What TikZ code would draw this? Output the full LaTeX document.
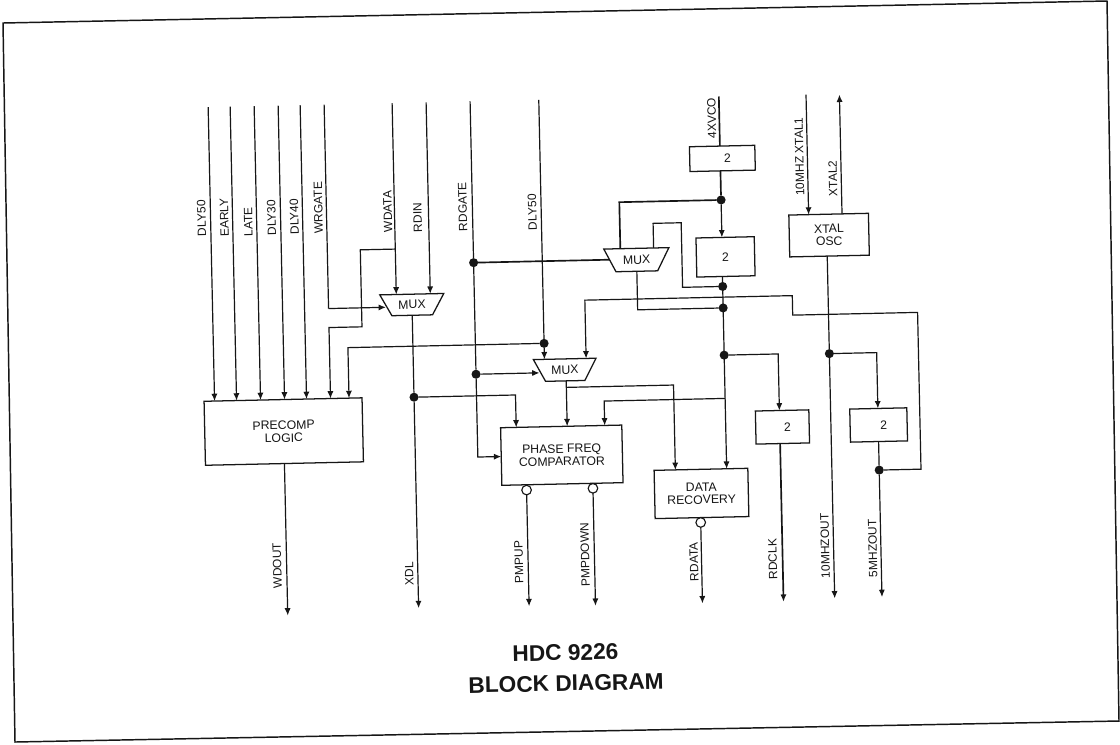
\documentclass[tikz,border=0pt]{standalone}
\usepackage{fontspec}
\usepackage{xcolor}
\usepackage{tikz}
\usetikzlibrary{calc,arrows.meta,positioning,shapes.geometric}
\setmainfont{Liberation Sans}
\definecolor{scanInk}{RGB}{22,22,22}
\tikzset{
  sigline/.style={draw=scanInk, line width=0.9pt},
  sigheavy/.style={draw=scanInk, line width=1.25pt},
  sigarrow/.style={sigline, -{Latex[length=5.5pt,width=4.6pt]}},
  heavyarrow/.style={sigheavy, -{Latex[length=5.5pt,width=4.6pt]}},
  blockbox/.style={draw=scanInk, line width=0.95pt, rectangle, fill=white, inner sep=0pt, outer sep=0pt, align=center, text=scanInk, font=\fontsize{9.2}{9.6}\selectfont},
  muxbox/.style={draw=scanInk, line width=0.95pt, trapezium, trapezium left angle=61, trapezium right angle=61, trapezium stretches body, shape border rotate=180, fill=white, inner xsep=0pt, inner ysep=4.7pt, outer sep=0pt, text=scanInk, font=\fontsize{9.2}{9.6}\selectfont},
  junction/.style={circle, fill=scanInk, minimum size=6.8pt, inner sep=0pt, outer sep=0pt},
  bubble/.style={circle, draw=scanInk, line width=0.85pt, fill=white, minimum size=7.2pt, inner sep=0pt, outer sep=0pt},
  siglabel/.style={rotate=90, inner sep=0pt, text=scanInk, font=\fontsize{9}{9}\selectfont},
}
\begin{document}
\begin{tikzpicture}[x=0.75pt,y=-0.75pt]
\useasboundingbox (0,0) rectangle (1120,744);
\fill[white] (0,0) rectangle (1120,744);
\draw[scanInk, line width=1.1pt] (3,23) -- (1107,1) -- (1119,721) -- (15,742) -- cycle;

\begin{scope}[transform canvas={rotate around={1.25:(560,372)}}]
\node[blockbox, minimum width=118.5pt, minimum height=48pt] (precomp) at (282.5,425.5) {PRECOMP\\LOGIC};
\node[blockbox, minimum width=90.9pt, minimum height=43.2pt] (phase) at (560,455.2) {PHASE FREQ\\COMPARATOR};
\node[blockbox, minimum width=70.3pt, minimum height=36.2pt] (recovery) at (698.8,496.5) {DATA\\RECOVERY};
\node[blockbox, minimum width=49pt, minimum height=18.6pt] (divvco) at (727,162) {\hspace*{7.5pt}2};
\node[blockbox, minimum width=43.7pt, minimum height=29.3pt] (divmid) at (728,260.5) {2};
\node[blockbox, minimum width=40.1pt, minimum height=24.8pt] (divclk) at (781.2,431.8) {\hspace*{7.5pt}2};
\node[blockbox, minimum width=42.8pt, minimum height=24.8pt] (divosc) at (877.4,431.9) {\hspace*{7.5pt}2};
\node[blockbox, minimum width=59.7pt, minimum height=31.4pt] (xtalosc) at (832,241) {XTAL\\OSC};
\node[muxbox, minimum width=48pt, minimum height=15.8pt] (muxwr) at (413.5,301.5) {MUX};
\node[muxbox, minimum width=47pt, minimum height=16.5pt] (muxph) at (565,370) {MUX};
\node[muxbox, minimum width=48.8pt, minimum height=17.2pt] (muxvco) at (639,261.5) {MUX};

\coordinate (dlyfifty) at (214,99.5);
\coordinate (early) at (236,99.5);
\coordinate (late) at (260,99.5);
\coordinate (dlythirty) at (284,99.5);
\coordinate (dlyforty) at (306,99.5);
\coordinate (wrgate) at (330,99.5);
\coordinate (wdata) at (398,99.5);
\coordinate (rdin) at (432,99.5);
\coordinate (rdgate) at (476,99.5);
\coordinate (dlyfiftyb) at (544.7,99.5);
\coordinate (fourvco) at (724.8,100);
\coordinate (xtalone) at (812,100);
\coordinate (xtaltwo) at (845.4,100.8);

\coordinate (wrturn) at (330,303.5);
\coordinate (wdtap) at (398,245.5);
\coordinate (wdjog) at (363,322.5);
\coordinate (pcin) at (348.5,393.5);
\coordinate (vcojog) at (684.4,225.4);
\coordinate (vcoina) at (623,250);
\coordinate (vcoinb) at (656.3,250);
\coordinate (rowa) at (918.8,320.2);
\coordinate (rowb) at (793.9,300.7);
\coordinate (phdly) at (586.4,359);
\coordinate (mainout) at (566,381);
\coordinate (mainsplit) at (566,387.5);
\coordinate (recin) at (673.2,472.4);
\coordinate (maintap) at (724.5,402);
\coordinate (phfb) at (603.5,426.4);
\coordinate (phxdl) at (515,426.4);
\coordinate (clkin) at (778.5,415.3);
\coordinate (oscin) at (877,415.3);

\coordinate (wdout) at (282.5,609.5);
\coordinate (xdl) at (413.5,605);
\coordinate (pmpup) at (524,605.5);
\coordinate (pmpdown) at (590.4,606.5);
\coordinate (rdata) at (697.4,606.4);
\coordinate (rdclk) at (778.5,606.6);
\coordinate (tenout) at (829.7,604.3);
\coordinate (fiveout) at (877,604);

\node[junction] (dotrda) at (476,260.8) {};
\node[junction] (dotrdb) at (476,372.4) {};
\node[junction] (dotdly) at (544.7,343) {};
\node[junction] (dotxdl) at (413.5,394) {};
\node[junction] (dotvco) at (724.8,203.5) {};
\node[junction] (dotfb) at (724.5,290) {};
\node[junction] (dotmux) at (724.5,311.5) {};
\node[junction] (dotclk) at (724.5,358.7) {};
\node[junction] (dotten) at (829.7,359.5) {};
\node[junction] (dotfive) at (877,477) {};
\node[bubble] (bubup) at (524,489.3) {};
\node[bubble] (bubdown) at (590.4,489) {};
\node[bubble] (bubdata) at (697.4,525.5) {};

\draw[sigarrow] (dlyfifty) -- (dlyfifty |- precomp.north);
\draw[sigarrow] (early) -- (early |- precomp.north);
\draw[sigarrow] (late) -- (late |- precomp.north);
\draw[sigarrow] (dlythirty) -- (dlythirty |- precomp.north);
\draw[sigarrow] (dlyforty) -- (dlyforty |- precomp.north);
\draw[sigline] (wrgate) -- (wrturn);
\draw[sigarrow] (wrturn) -- (wrturn -| muxwr.west);
\draw[sigarrow] (wdata) -- (wdata |- muxwr.north);
\draw[sigarrow] (rdin) -- (rdin |- muxwr.north);
\draw[sigarrow] (wdtap) -| (wdjog) -| (wrgate |- precomp.north);
\draw[sigarrow] (dotdly) -| (pcin);

\draw[sigline] (rdgate) -- (dotrda);
\draw[sigline] (dotrda) -- (dotrdb);
\draw[sigarrow] (dotrdb) |- (phase.west);
\draw[sigheavy] (dotrda) -- (dotrda -| muxvco.west);
\draw[sigarrow] (dotrdb) -- (dotrdb -| muxph.west);
\draw[sigline] (dlyfiftyb) -- (dotdly);
\draw[sigarrow] (dotdly) -- (dotdly |- muxph.north);

\draw[sigline] (muxwr.south) -- (dotxdl);
\draw[sigarrow] (dotxdl) -- (xdl);
\draw[sigarrow] (dotxdl) -| (phxdl);
\draw[sigarrow] (mainout) -- (mainout |- phase.north);
\draw[sigarrow] (mainsplit) -| (recin);

\draw[sigheavy] (fourvco) -- (fourvco |- divvco.north);
\draw[sigheavy] (fourvco |- divvco.south) -- (dotvco);
\draw[sigarrow] (dotvco) -- (dotvco |- divmid.north);
\draw[sigheavy] (dotvco) -| (vcoina);
\draw[sigline] (dotfb) -| (vcojog) -| (vcoinb);
\draw[sigarrow] (dotfb |- divmid.south) -- (dotfb |- recovery.north);
\draw[sigline] (muxvco.south) |- (dotmux);
\draw[sigarrow] (dotclk) -| (clkin);
\draw[sigarrow] (maintap) -| (phfb);
\draw[sigarrow] (dotfive) -| (rowa) -| (rowb) -| (phdly);

\draw[sigarrow] (xtalone) -- (xtalone |- xtalosc.north);
\draw[sigarrow] (xtaltwo |- xtalosc.north) -- (xtaltwo);
\draw[sigline] (dotten |- xtalosc.south) -- (dotten);
\draw[sigarrow] (dotten) -- (tenout);
\draw[sigarrow] (dotten) -| (oscin);
\draw[sigline] (oscin |- divosc.south) -- (dotfive);
\draw[sigarrow] (dotfive) -- (fiveout);

\draw[sigarrow] (precomp.south) -- (wdout);
\draw[sigarrow] (bubup) -- (pmpup);
\draw[sigarrow] (bubdown) -- (pmpdown);
\draw[sigarrow] (bubdata) -- (rdata);
\draw[heavyarrow] (clkin |- divclk.south) -- (rdclk);

\node[siglabel] (lbldlyfifty) at (205,210.4) {DLY50};
\node[siglabel] (lblearly) at (227.7,210.3) {EARLY};
\node[siglabel] (lbllate) at (251.6,215.4) {LATE};
\node[siglabel] (lbldlythirty) at (275,211.4) {DLY30};
\node[siglabel] (lbldlyforty) at (297.7,210.9) {DLY40};
\node[siglabel] (lblwrgate) at (321.9,202.4) {WRGATE};
\node[siglabel] (lblwdata) at (391.2,207.9) {WDATA};
\node[siglabel] (lblrdin) at (421,214.6) {RDIN};
\node[siglabel] (lblrdgate) at (466.3,204.6) {RDGATE};
\node[siglabel] (lbldlyfiftyb) at (535.8,211.7) {DLY50};
\node[siglabel] (lblfourvco) at (717.3,121.6) {4XVCO};
\node[siglabel] (lblxtalone) at (804,162) {10MHZ XTAL1};
\node[siglabel] (lblxtaltwo) at (837,184.3) {XTAL2};
\node[siglabel] (lblwdout) at (273,559.5) {WDOUT};
\node[siglabel] (lblxdl) at (404.9,570.7) {XDL};
\node[siglabel] (lblpmpup) at (514.8,561.4) {PMPUP};
\node[siglabel] (lblpmpdown) at (581,555.5) {PMPDOWN};
\node[siglabel] (lblrdata) at (689.8,564.6) {RDATA};
\node[siglabel] (lblrdclk) at (768.6,563.7) {RDCLK};
\node[siglabel] (lbltenout) at (821.2,551.8) {10MHZOUT};
\node[siglabel] (lblfiveout) at (868.8,555.1) {5MHZOUT};

\node[align=center, text=scanInk, font=\fontsize{17}{23}\selectfont\bfseries] (title) at (559.3,668) {HDC 9226\\BLOCK DIAGRAM};
\end{scope}
\end{tikzpicture}
\end{document}
